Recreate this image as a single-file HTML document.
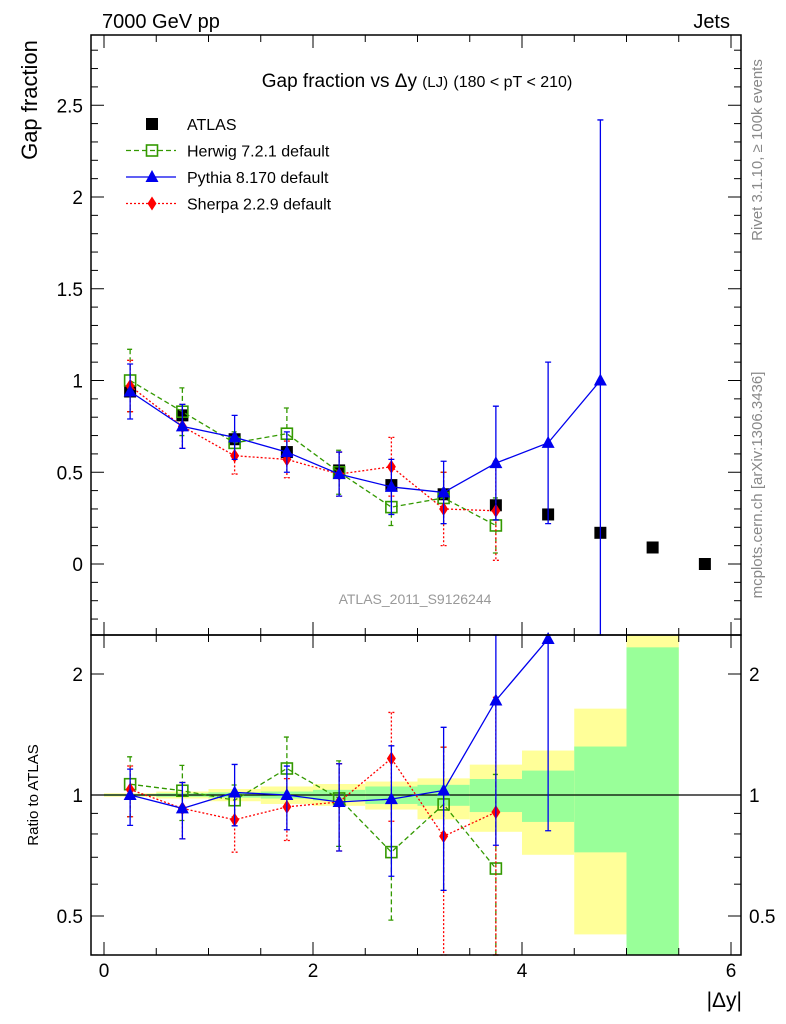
<!DOCTYPE html>
<html><head><meta charset="utf-8"><style>
body{margin:0;background:#fff;}
svg{display:block;font-family:"Liberation Sans",sans-serif;}
</style></head><body>
<svg id="c" width="786" height="1024" viewBox="0 0 786 1024">
<text x="102" y="28" font-size="20">7000 GeV pp</text>
<text x="730" y="28" font-size="20" text-anchor="end">Jets</text>
<text x="417" y="87" font-size="19" text-anchor="middle">Gap fraction vs Δy <tspan font-size="15">(LJ)</tspan> <tspan font-size="16">(180 &lt; pT &lt; 210)</tspan></text>
<text transform="translate(37,100) rotate(-90)" font-size="22" text-anchor="middle">Gap fraction</text>
<text transform="translate(38,795) rotate(-90)" font-size="15" text-anchor="middle">Ratio to ATLAS</text>
<text x="742" y="1007" font-size="21" text-anchor="end">|Δy|</text>
<text transform="translate(762,150) rotate(-90)" font-size="15" fill="#888" text-anchor="middle">Rivet 3.1.10, ≥ 100k events</text>
<text transform="translate(762,485) rotate(-90)" font-size="15" fill="#888" text-anchor="middle">mcplots.cern.ch [arXiv:1306.3436]</text>
<text x="415" y="604" font-size="14" fill="#999" text-anchor="middle">ATLAS_2011_S9126244</text>
<g id="ratioBands"></g>
<g id="marks"></g>
<g id="axes"></g>
<g id="legend"></g>
</svg>
<script>
const binEdges=[0,0.5,1,1.5,2,2.5,3,3.5,4,4.5,5,5.5,6];
const xCenters=[0.25,0.75,1.25,1.75,2.25,2.75,3.25,3.75,4.25,4.75,5.25,5.75];
const atlasY=[0.94,0.81,0.68,0.61,0.51,0.43,0.38,0.32,0.27,0.17,0.09,0.0];
const herwigY=[1.0,0.83,0.66,0.71,0.50,0.31,0.36,0.21];
const herwigErr=[0.17,0.13,0.06,0.14,0.12,0.10,0.14,0.15];
const pythiaY=[0.94,0.75,0.69,0.61,0.49,0.42,0.39,0.55,0.66,1.00];
const pythiaErr=[0.15,0.12,0.12,0.11,0.12,0.15,0.17,0.31,0.44,1.42];
const sherpaY=[0.97,0.75,0.59,0.57,0.49,0.53,0.30,0.29];
const sherpaErr=[0.14,0.12,0.10,0.10,0.12,0.16,0.20,0.27];
const statLo=[0.995,0.99,0.985,0.98,0.97,0.95,0.94,0.907,0.857,0.72,0.3,null];
const statHi=[1.005,1.01,1.015,1.02,1.03,1.05,1.06,1.096,1.15,1.32,2.33,null];
const totLo=[0.99,0.98,0.965,0.95,0.94,0.92,0.87,0.81,0.71,0.45,0.3,null];
const totHi=[1.01,1.02,1.035,1.05,1.065,1.08,1.10,1.19,1.29,1.64,3.0,null];
const mainTicks=[0,0.5,1,1.5,2,2.5];
const ratioTicks=[0.5,1,2];
const xTicks=[0,2,4,6];

const NS='http://www.w3.org/2000/svg';
const L=91,R=741,T=35,M=635,B=955;
const X=v=>104+v*104.5;
const Y=v=>564-v*183.5;
const YR=v=>795-Math.log2(v)*121;
const cl=(v,a,b)=>Math.max(a,Math.min(b,v));
function mk(p,tag,at){const e=document.createElementNS(NS,tag);for(const k in at)e.setAttribute(k,at[k]);p.appendChild(e);return e;}
const bands=document.getElementById('ratioBands'),marks=document.getElementById('marks'),axes=document.getElementById('axes'),leg=document.getElementById('legend');

for(let i=0;i<statLo.length;i++){if(statLo[i]==null)continue;
 const x1=X(binEdges[i]),x2=X(binEdges[i+1]);
 const y1=cl(YR(totHi[i]),M,B),y2=cl(YR(totLo[i]),M,B);
 const r=mk(bands,'rect',{x:x1,y:y1,width:x2-x1,height:y2-y1,fill:'#ffff99'});
 
 
 const s1=cl(YR(statHi[i]),M,B),s2=cl(YR(statLo[i]),M,B);
 const g=mk(bands,'rect',{x:x1,y:s1,width:x2-x1,height:s2-s1,fill:'#99ff99'});
 
 
}
mk(bands,'line',{x1:L,x2:R,y1:YR(1),y2:YR(1),stroke:'#000','stroke-width':1.2});

function marker(p,type,x,y,color,name){let e;
 if(type==='sq')e=mk(p,'rect',{x:x-6,y:y-6,width:12,height:12,fill:'#000'});
 else if(type==='osq')e=mk(p,'rect',{x:x-5.5,y:y-5.5,width:11,height:11,fill:'none',stroke:color,'stroke-width':1.6});
 else if(type==='tri')e=mk(p,'polygon',{points:`${x},${y-7} ${x-6.5},${y+5} ${x+6.5},${y+5}`,fill:color});
 else e=mk(p,'polygon',{points:`${x},${y-7} ${x-4.5},${y} ${x},${y+7} ${x+4.5},${y}`,fill:color});
 
 }

function series(vals,errs,color,dash,type,name,ratio){
 const g=mk(marks,'g',{});
 
 
 const yf=ratio?(v=>YR(Math.max(v,0.01))):Y, lo=ratio?M:T, hi=ratio?B:M;
 const v=vals.map((d,i)=>ratio?d/atlasY[i]:d), e=errs.map((d,i)=>ratio?d/atlasY[i]:d);
 const pts=v.map((d,i)=>[X(xCenters[i]),yf(d)]);
 let dstr='';pts.forEach((p,i)=>{dstr+=(i?'L':'M')+p[0]+','+p[1];});
 const cp=mk(g,'clipPath',{id:'cp'+name+ratio});mk(cp,'rect',{x:L,y:lo,width:R-L,height:hi-lo});
 const ln=mk(g,'path',{d:dstr,fill:'none',stroke:color,'stroke-width':1.3,'stroke-dasharray':dash,'clip-path':`url(#cp${name}${ratio})`});
 
 
 v.forEach((d,i)=>{const x=pts[i][0];
  const ra=yf(d+e[i]), rb=ratio?yf(Math.max(d-e[i],0.001)):yf(d-e[i]);
  if(ra>hi||rb<lo||(ratio&&pts[i][1]<lo))return;
  const ya=cl(ra,lo,hi),yb=cl(rb,lo,hi);
  const eb=mk(g,'path',{d:`M${x},${ya}L${x},${yb}M${x-3},${ya}L${x+3},${ya}M${x-3},${yb}L${x+3},${yb}`,stroke:color,'stroke-width':1.3,'stroke-dasharray':dash,fill:'none'});
  
  
  if(pts[i][1]>=lo&&pts[i][1]<=hi)marker(g,type,x,pts[i][1],color,name+'-point');});
}
atlasY.forEach((d,i)=>marker(marks,'sq',X(xCenters[i]),Y(d),'#000','atlas-point'));
[[herwigY,herwigErr,'#339900','5,3','osq','herwig'],[sherpaY,sherpaErr,'#ff0000','2,2','dia','sherpa'],[pythiaY,pythiaErr,'#0000ee','','tri','pythia']].forEach(s=>{
 series(s[0],s[1],s[2],s[3],s[4],s[5],false);series(s[0],s[1],s[2],s[3],s[4],s[5],true);});

mk(axes,'rect',{x:L,y:T,width:R-L,height:M-T,fill:'none',stroke:'#000','stroke-width':1.5});
mk(axes,'rect',{x:L,y:M,width:R-L,height:B-M,fill:'none',stroke:'#000','stroke-width':1.5});
for(let v=-0.3;v<=2.85;v+=0.1){const y=Y(v);if(y<T||y>M)continue;const maj=Math.abs(v*2-Math.round(v*2))<1e-6;const w=maj?13:7;
 mk(axes,'line',{x1:L,x2:L+w,y1:y,y2:y,stroke:'#000'});mk(axes,'line',{x1:R,x2:R-w,y1:y,y2:y,stroke:'#000'});}
mainTicks.forEach(v=>{const t=mk(axes,'text',{x:L-8,y:Y(v)+7,'font-size':19,'text-anchor':'end'});t.textContent=String(v);
 
 });
[0.4,0.5,0.6,0.7,0.8,0.9,1,2].forEach(v=>{const y=YR(v);const maj=ratioTicks.includes(v);const w=maj?13:7;
 mk(axes,'line',{x1:L,x2:L+w,y1:y,y2:y,stroke:'#000'});mk(axes,'line',{x1:R,x2:R-w,y1:y,y2:y,stroke:'#000'});});
ratioTicks.forEach(v=>{[[L-8,'end'],[R+8,'start']].forEach(a=>{const t=mk(axes,'text',{x:a[0],y:YR(v)+7,'font-size':19,'text-anchor':a[1]});t.textContent=String(v);
 
 });});
for(let v=0;v<=6.01;v+=0.5){const x=X(v);if(x>R)continue;const maj=Math.abs(v%2)<1e-6;const w=maj?13:7;
 [[T,1],[M,-1],[M,1],[B,-1]].forEach(a=>mk(axes,'line',{x1:x,x2:x,y1:a[0],y2:a[0]+a[1]*w,stroke:'#000'}));}
xTicks.forEach(v=>{const t=mk(axes,'text',{x:X(v),y:B+22,'font-size':19,'text-anchor':'middle'});t.textContent=String(v);
 
 });

[['ATLAS','#000','','sq'],['Herwig 7.2.1 default','#339900','5,3','osq'],['Pythia 8.170 default','#0000ee','','tri'],['Sherpa 2.2.9 default','#ff0000','2,2','dia']].forEach((e,i)=>{
 const y=124+i*26.5;
 if(i>0)mk(leg,'line',{x1:126,x2:176,y1:y,y2:y,stroke:e[1],'stroke-width':1.3,'stroke-dasharray':e[2]});
 marker(leg,e[3],152,y,e[1],'legend-marker');
 const t=mk(leg,'text',{x:187,y:y+6,'font-size':16});t.textContent=e[0];
 
 });
</script>
</body></html>
